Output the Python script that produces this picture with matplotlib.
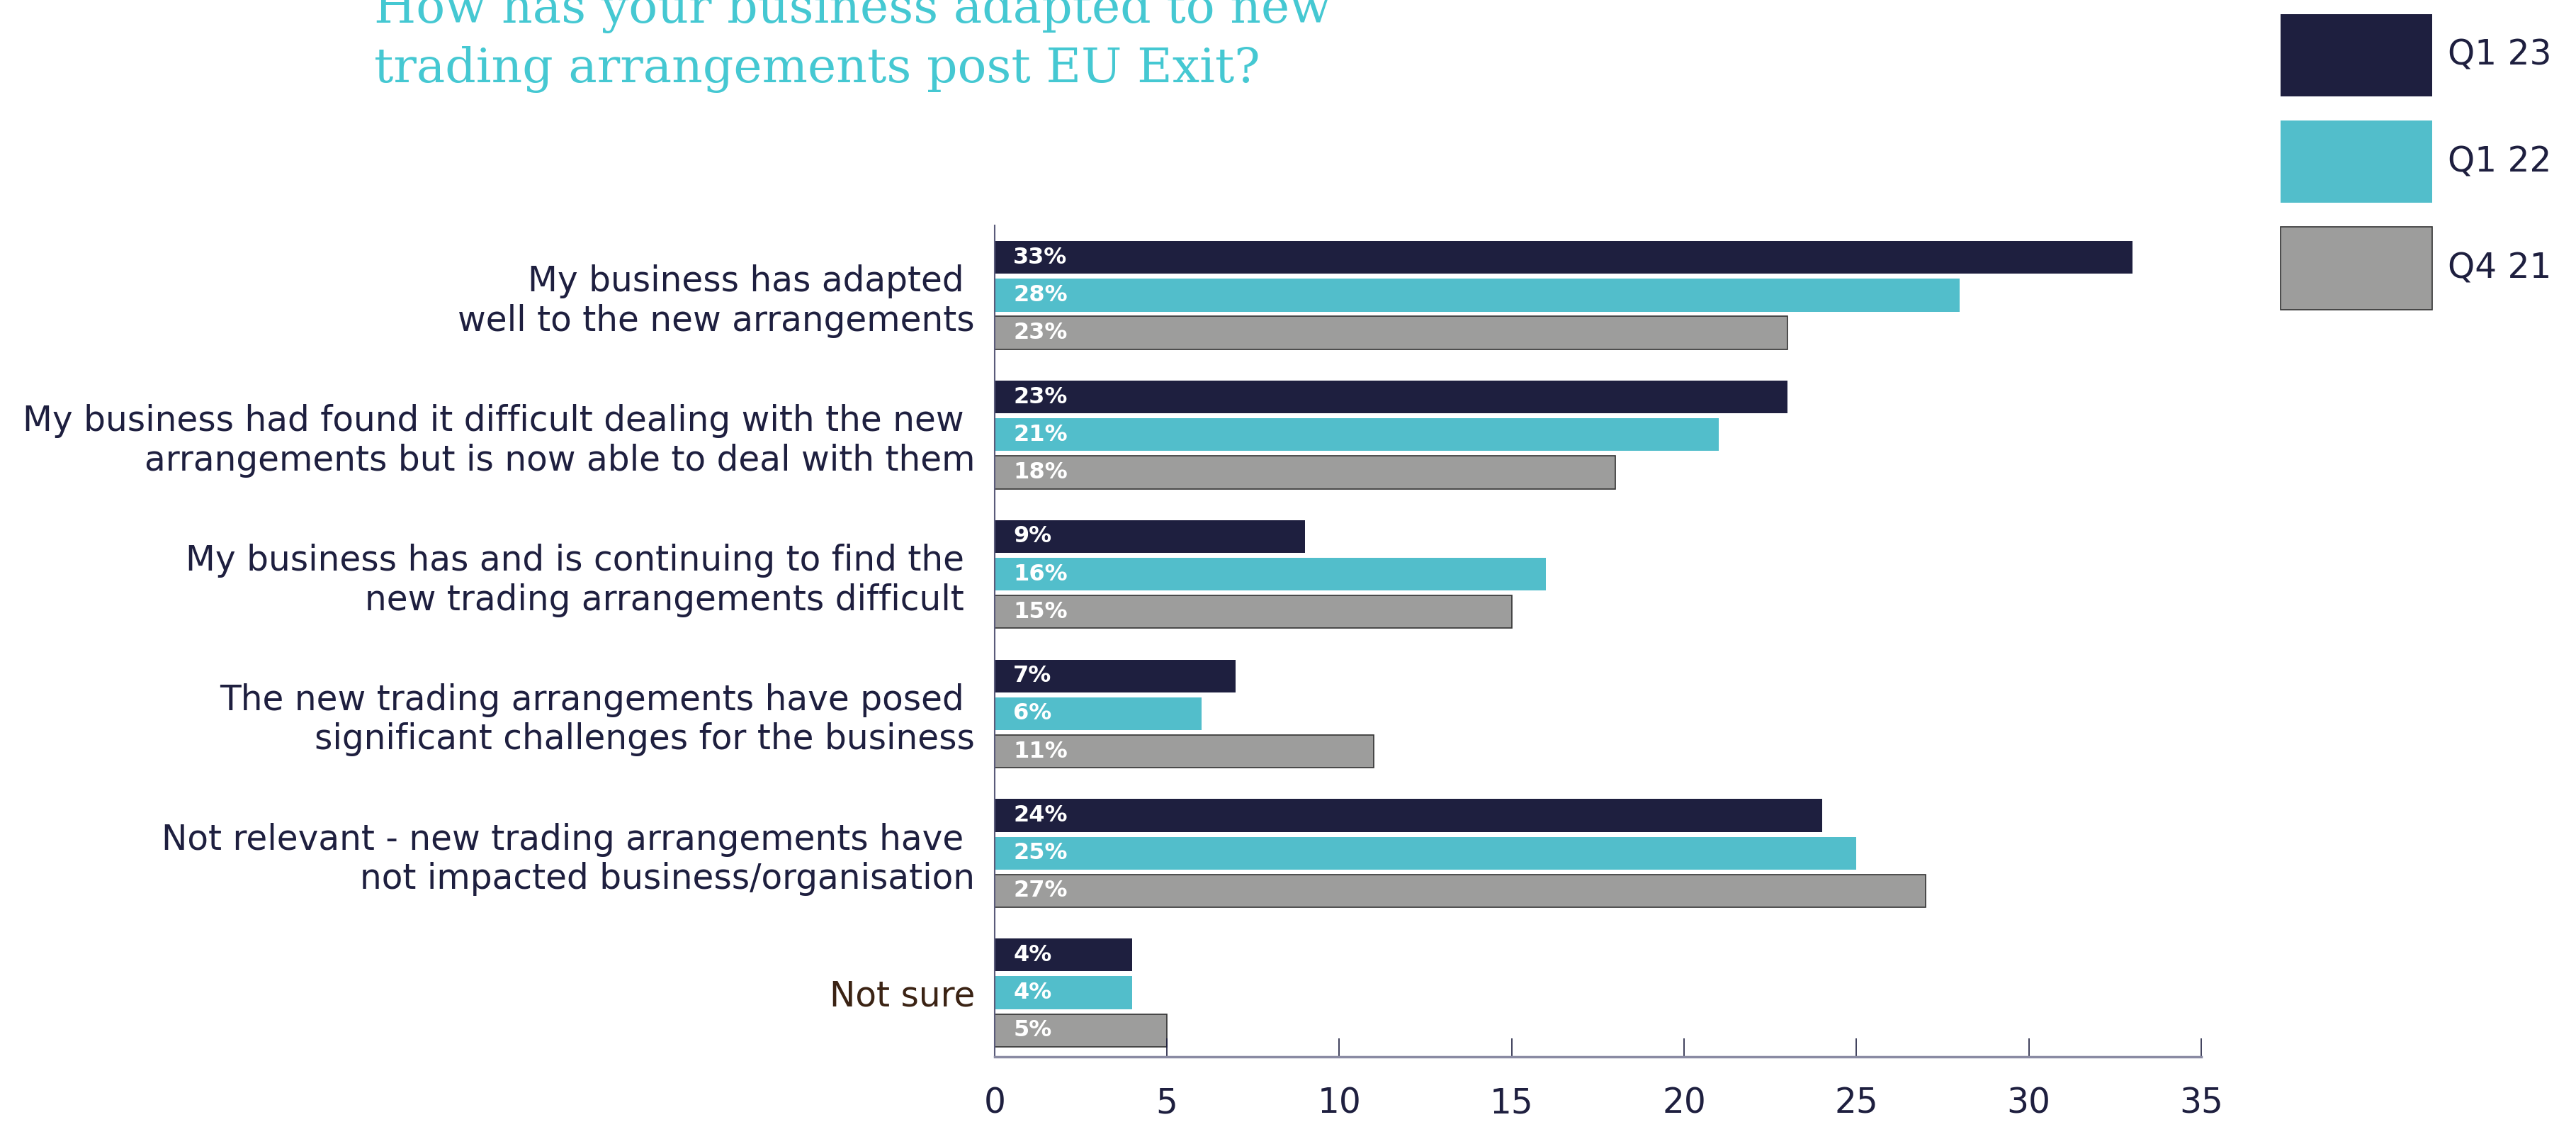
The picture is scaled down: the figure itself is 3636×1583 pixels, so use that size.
import matplotlib
matplotlib.use("Agg")
import matplotlib.pyplot as plt
import numpy as np

# Survey answers (top to bottom) and the share for each quarter, in percent
categories = [
    "My business has adapted \nwell to the new arrangements",
    "My business had found it difficult dealing with the new \narrangements but is now able to deal with them",
    "My business has and is continuing to find the \nnew trading arrangements difficult ",
    "The new trading arrangements have posed \nsignificant challenges for the business",
    "Not relevant - new trading arrangements have \nnot impacted business/organisation",
    "Not sure",
]
series_names = ["Q1 23", "Q1 22", "Q4 21"]
q1_23 = [33, 23, 9, 7, 24, 4]
q1_22 = [28, 21, 16, 6, 25, 4]
q4_21 = [23, 18, 15, 11, 27, 5]
x_ticks = [0, 5, 10, 15, 20, 25, 30, 35]

title = "How has your business adapted to new\ntrading arrangements post EU Exit?"

navy = "#1E1F3F"
teal = "#52BECB"
grey = "#9D9D9C"
title_teal = "#45C8D2"
brown = "#3B2314"

plt.rcParams.update({"font.family": ["DejaVu Sans"]})

fig = plt.figure(figsize=(36.36, 15.83), dpi=100)
ax = fig.add_axes([0.3861, 0.0581, 0.8545 - 0.3861, 0.7991 - 0.0581])

# Grouped horizontal bars, three per answer
y = np.arange(len(categories))
bar_h = 0.235
step = 0.27
styles = [
    (q1_23, navy, "none", 0),
    (q1_22, teal, "none", 0),
    (q4_21, grey, "#333333", 1.2),
]
for i, (vals, col, edge, lw) in enumerate(styles):
    pos = y + (i - 1) * step
    bars = ax.barh(pos, vals, height=bar_h, color=col, edgecolor=edge,
                   linewidth=lw, label=series_names[i])
    for b, v in zip(bars, vals):
        ax.annotate(f"{v}%", xy=(0, b.get_y() + b.get_height() / 2),
                    xytext=(19, 0), textcoords="offset points",
                    ha="left", va="center", color="white",
                    fontsize=23, fontweight="bold")

ax.set_xlim(0, 35)
ax.set_ylim(len(categories) - 1 + 0.46, -0.5)
ax.set_xticks(x_ticks)
ax.set_yticks(y)
ax.set_yticklabels(categories, fontsize=35, color=navy, ha="right",
                   linespacing=1.2)
ax.get_yticklabels()[-1].set_color(brown)

ax.tick_params(axis="y", length=0, pad=20)
ax.tick_params(axis="x", direction="in", length=19, width=1.2, color=navy,
               labelsize=35, labelcolor=navy, pad=30)

for side in ["top", "right"]:
    ax.spines[side].set_visible(False)
ax.spines["left"].set_color("#5A5B7A")
ax.spines["left"].set_linewidth(1.5)
ax.spines["bottom"].set_color("#8A8BA3")
ax.spines["bottom"].set_linewidth(2.5)

# Title, partly off the top edge like the source
fig.text(528 / 3636, 1 - 116 / 1583, title, family="DejaVu Serif",
         fontsize=49, color=title_teal, ha="left", va="baseline",
         linespacing=1.35)

# Legend on the top right
leg = fig.legend(loc="upper left", bbox_to_anchor=(3175 / 3636, 1.015),
                 frameon=False, fontsize=35, handlelength=4.4,
                 handleheight=3.3, labelspacing=0.7, handletextpad=0.45,
                 labelcolor=navy)

fig.savefig("out.png", dpi=100, facecolor="white")
